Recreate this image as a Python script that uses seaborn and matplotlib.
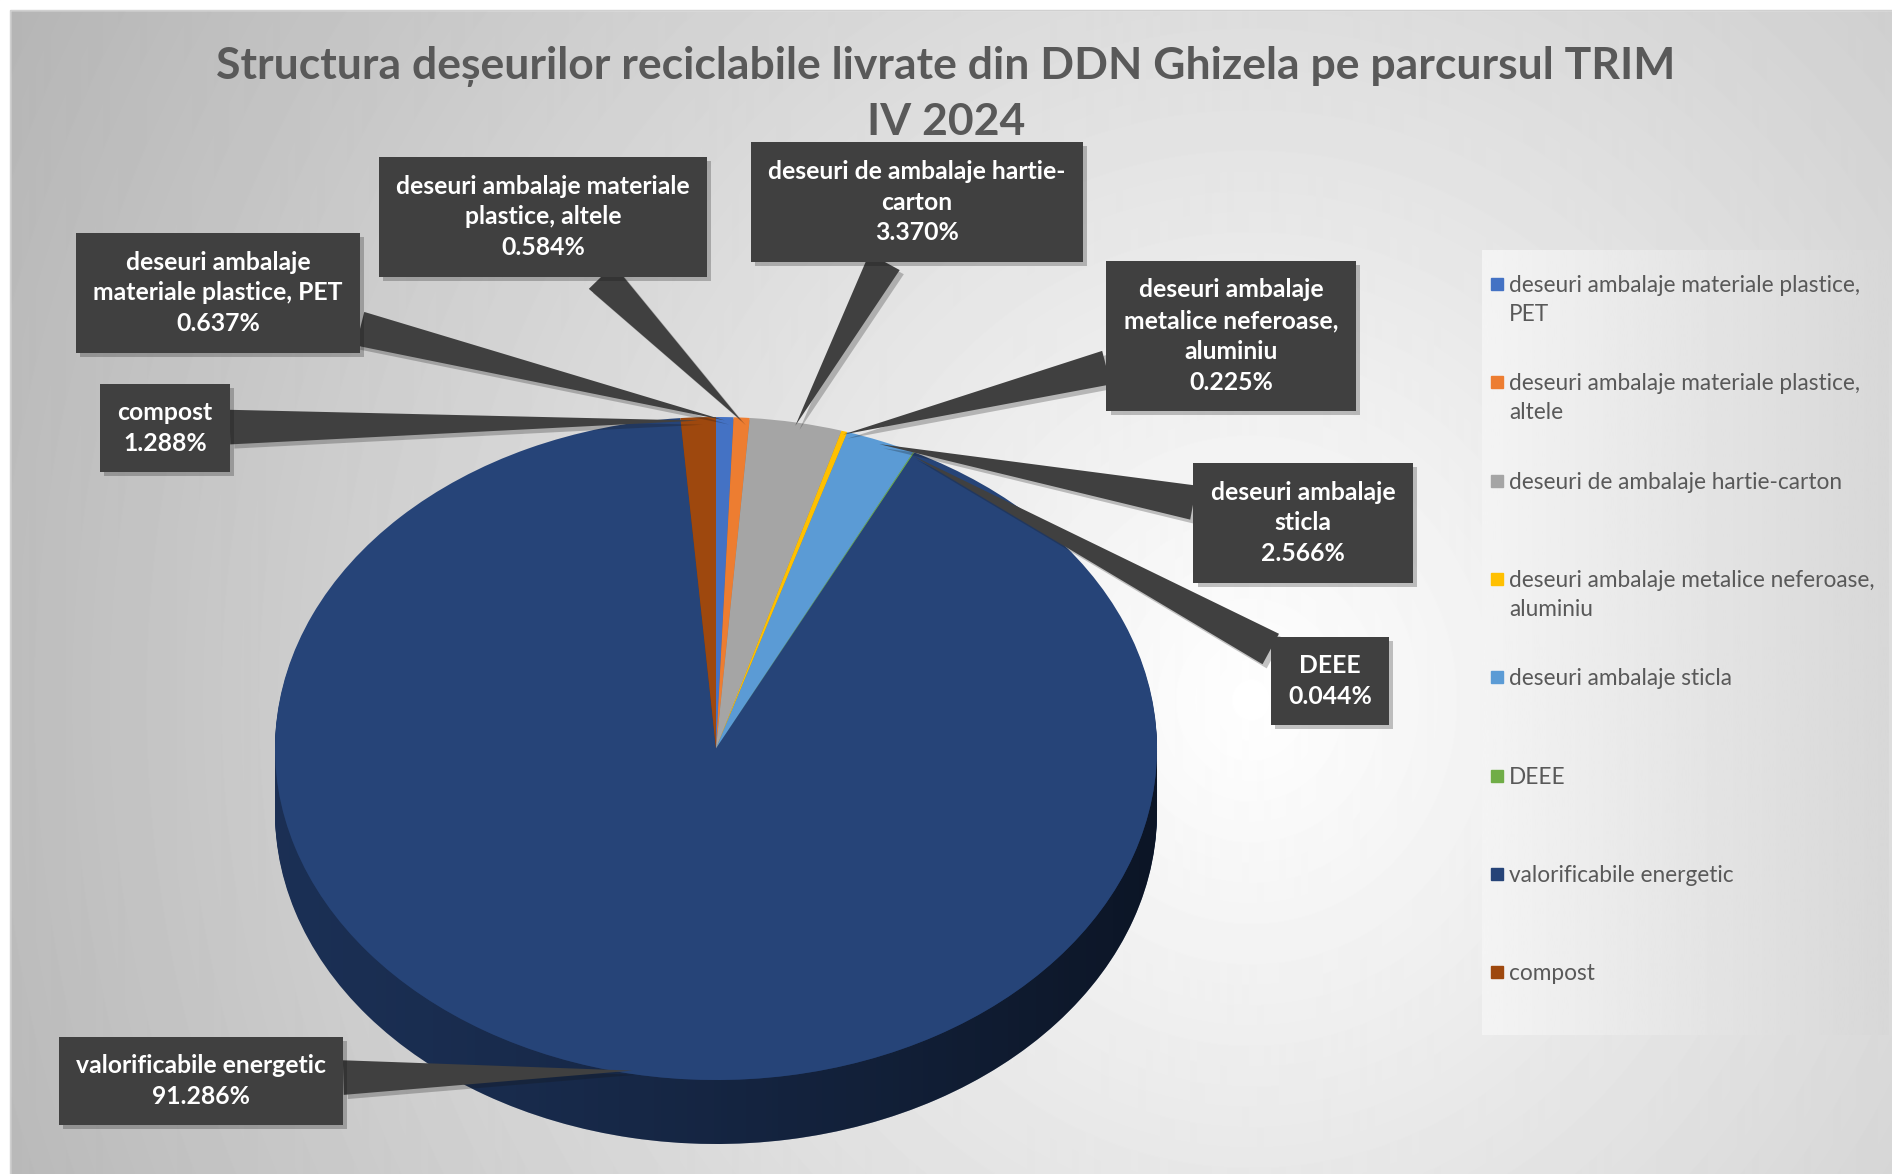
"""3D-style pie of recyclable waste delivered from DDN Ghizela, Q4 2024."""

import textwrap

import matplotlib.patheffects as pe
import matplotlib.pyplot as plt
import numpy as np
import seaborn as sns
from matplotlib.patches import Polygon, Rectangle

W, H = 1892, 1174

categories = [
    "deseuri ambalaje materiale plastice, PET",
    "deseuri ambalaje materiale plastice, altele",
    "deseuri de ambalaje hartie-carton",
    "deseuri ambalaje metalice neferoase, aluminiu",
    "deseuri ambalaje sticla",
    "DEEE",
    "valorificabile energetic",
    "compost",
]
shares = [0.637, 0.584, 3.370, 0.225, 2.566, 0.044, 91.286, 1.288]

# how the data labels wrap inside their boxes
label_names = [
    "deseuri ambalaje\nmateriale plastice, PET",
    "deseuri ambalaje materiale\nplastice, altele",
    "deseuri de ambalaje hartie-\ncarton",
    "deseuri ambalaje\nmetalice neferoase,\naluminiu",
    "deseuri ambalaje\nsticla",
    "DEEE",
    "valorificabile energetic",
    "compost",
]

office = ["#4472C4", "#ED7D31", "#A5A5A5", "#FFC000",
          "#5B9BD5", "#70AD47", "#264478", "#9E480E"]

TITLE = "Structura deșeurilor reciclabile livrate din DDN Ghizela pe parcursul TRIM\nIV 2024"

# layout (reference pixels, y from top)
label_pos = [(218, 293), (543, 217), (917, 202), (1231, 336),
             (1303, 523), (1330, 681), (201, 1081), (165, 428)]
CX, RX, TOP, FACE_BOTTOM, DEPTH = 716, 441, 417, 1080, 64


def draw_background(fig):
    bg = fig.add_axes([0, 0, 1, 1], zorder=-10)
    yy, xx = np.mgrid[0:H, 0:W]
    r = np.sqrt(((xx - 1250) / 1150) ** 2 + ((yy - 700) / 1250) ** 2)
    shade = np.clip(1 - 0.24 * r, 0, 1)
    bg.imshow(shade, cmap="gray", vmin=0, vmax=1, extent=(0, W, H, 0), aspect="auto")
    # legend panel
    lx = np.linspace(0, 1, 200)[None, :]
    panel = 0.955 - 0.11 * lx
    bg.imshow(panel, cmap="gray", vmin=0, vmax=1, extent=(1482, 1888, 1035, 250), aspect="auto")
    # white margin round the chart area
    bg.add_patch(Rectangle((0, 0), W, 10, color="white"))
    bg.add_patch(Rectangle((0, 0), 10, H, color="white"))
    bg.add_patch(Rectangle((10, 10), W, H, fill=False, ec="#d0d0d0", lw=1))
    bg.set_xlim(0, W)
    bg.set_ylim(H, 0)
    bg.axis("off")


def draw_pie(fig):
    ry = (FACE_BOTTOM - TOP) / 2
    d = DEPTH / ry
    ax = fig.add_axes([(CX - RX) / W, (H - FACE_BOTTOM - DEPTH) / H,
                       2 * RX / W, (FACE_BOTTOM + DEPTH - TOP) / H])
    side = [tuple(0.78 * c for c in col) for col in sns.color_palette(office)]
    for off in np.linspace(d, 0, 40)[:-1]:
        ax.pie(shares, colors=side, startangle=90, counterclock=False,
               center=(0, -off), wedgeprops=dict(linewidth=0))

    # darken the side wall towards the right
    t = np.linspace(np.pi, 2 * np.pi, 200)
    wall = np.vstack([np.column_stack([np.cos(t), np.sin(t)]),
                      np.column_stack([np.cos(t[::-1]), np.sin(t[::-1]) - d])])
    clip = Polygon(wall, closed=True, transform=ax.transData, fc="none", ec="none")
    ax.add_patch(clip)
    ramp = np.linspace(0, 1, 300)[None, :]
    shade = np.zeros((1, 300, 4))
    shade[..., 3] = 0.1 + 0.5 * ramp ** 1.3
    img = ax.imshow(shade, extent=(-1, 1, -1 - d, 0), aspect="auto", zorder=1.5)
    img.set_clip_path(clip)

    ax.pie(shares, colors=sns.color_palette(office), startangle=90, counterclock=False,
           wedgeprops=dict(linewidth=0, zorder=2))
    ax.set_aspect("auto")
    ax.set_xlim(-1, 1)
    ax.set_ylim(-1 - d, 1)
    ax.axis("off")
    return ax


def draw_labels(ax):
    total = sum(shares)
    cum = np.cumsum([0] + shares[:-1])
    shadow = [pe.SimplePatchShadow(offset=(3, -3), alpha=0.25), pe.Normal()]
    for i, value in enumerate(shares):
        theta = np.deg2rad(90 - 360 * (cum[i] + value / 2) / total)
        px, py = label_pos[i]
        ann = ax.annotate(
            f"{label_names[i]}\n{value:.3f}%",
            xy=(0.99 * np.cos(theta), 0.99 * np.sin(theta)),
            xycoords="data",
            xytext=(px / W, 1 - py / H),
            textcoords="figure fraction",
            ha="center", va="center", fontsize=17.8, fontweight="bold",
            color="white", family="Lato", linespacing=1.42,
            bbox=dict(boxstyle="square,pad=0.7", fc="#404040", ec="none"),
            arrowprops=dict(arrowstyle="wedge,tail_width=1.4,shrink_factor=0.5",
                            fc="#404040", ec="none", shrinkA=0, shrinkB=0),
            annotation_clip=False, zorder=5,
        )
        ann.get_bbox_patch().set_path_effects(shadow)
        ann.arrow_patch.set_path_effects(shadow)


def draw_legend(fig):
    y0, step = 284, 98.3
    for i, name in enumerate(categories):
        y = y0 + i * step
        fig.patches.append(Rectangle((1491 / W, 1 - (y + 6) / H), 12 / W, 12 / H,
                                     transform=fig.transFigure, color=office[i]))
        fig.text(1509 / W, 1 - (y - 9) / H, textwrap.fill(name, 36),
                 va="top", ha="left", fontsize=16.3, color="#595959",
                 family="Lato", linespacing=1.48)


def main():
    sns.set_theme(style="white")
    plt.rcParams["font.family"] = ["Lato", "DejaVu Sans"]
    fig = plt.figure(figsize=(W / 100, H / 100), dpi=100)
    draw_background(fig)
    ax = draw_pie(fig)
    draw_labels(ax)
    draw_legend(fig)
    fig.text(0.5, 1 - 94 / H, TITLE, ha="center", va="center", fontsize=32,
             fontweight="bold", color="#595959", linespacing=1.48)
    fig.savefig("out.png", dpi=100)


if __name__ == "__main__":
    main()
